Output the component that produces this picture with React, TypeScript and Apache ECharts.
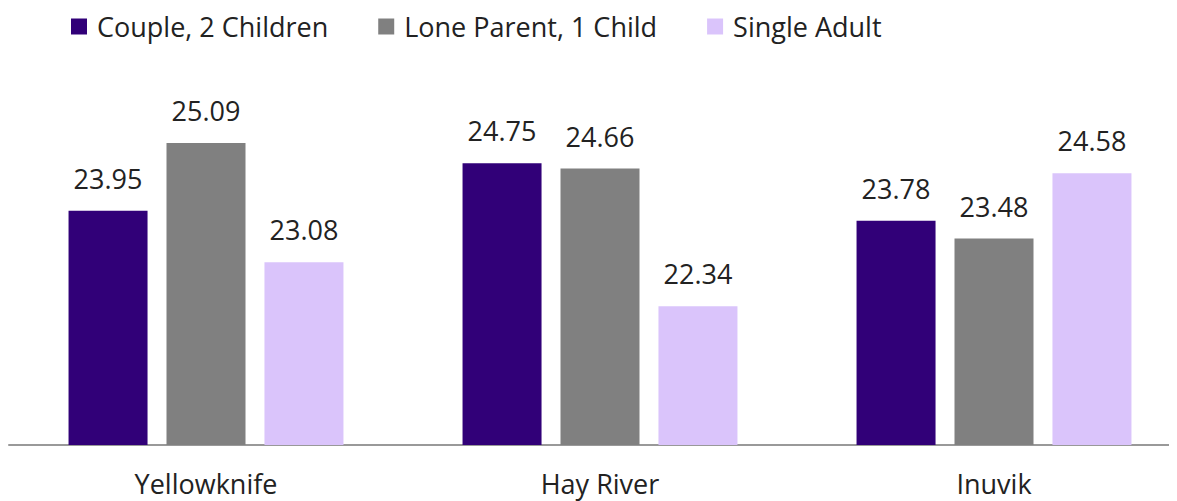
import React, { useEffect, useRef } from "react";
import * as echarts from "echarts";

const categories = ["Yellowknife", "Hay River", "Inuvik"];
const seriesNames = ["Couple, 2 Children", "Lone Parent, 1 Child", "Single Adult"];
const couple = [23.95, 24.75, 23.78];
const lone = [25.09, 24.66, 23.48];
const single = [23.08, 22.34, 24.58];
const colors = ["#310078", "#808080", "#DAC4FB"];

export default function App() {
  const ref = useRef<HTMLDivElement>(null);
  useEffect(() => {
    if (!ref.current) return;
    const chart = echarts.init(ref.current, undefined, { renderer: "svg" });
    const font = "'Open Sans', sans-serif";
    const values = [couple, lone, single];
    chart.setOption({
      animation: false,
      color: colors,
      legend: {
        left: 66,
        top: 8,
        itemWidth: 16,
        itemHeight: 16,
        itemGap: 50,
        icon: "rect",
        textStyle: { fontFamily: font, fontSize: 27, color: "#222", padding: [0, 0, 0, 5] },
        data: seriesNames,
      },
      grid: { left: 9, right: -14, top: 89, bottom: 56, outerBoundsMode: "none" },
      xAxis: {
        type: "category",
        data: categories,
        axisLine: { lineStyle: { color: "#999", width: 2 } },
        axisTick: { show: false },
        axisLabel: { fontFamily: font, fontSize: 27, color: "#222", margin: 25 },
      },
      yAxis: {
        type: "value",
        min: 20,
        max: 26,
        show: false,
        splitLine: { show: false },
      },
      series: seriesNames.map((name, i) => ({
        name,
        type: "bar",
        data: values[i],
        barWidth: 79,
        barGap: "24%",
        label: {
          show: true,
          position: "top",
          distance: 19,
          fontFamily: font,
          fontSize: 27,
          color: "#222",
          formatter: (p: any) => p.value.toFixed(2),
        },
      })),
    });
    return () => chart.dispose();
  }, []);
  return <div ref={ref} style={{ width: 1177, height: 501, margin: "-8px 0 0 -8px" }} />;
}
